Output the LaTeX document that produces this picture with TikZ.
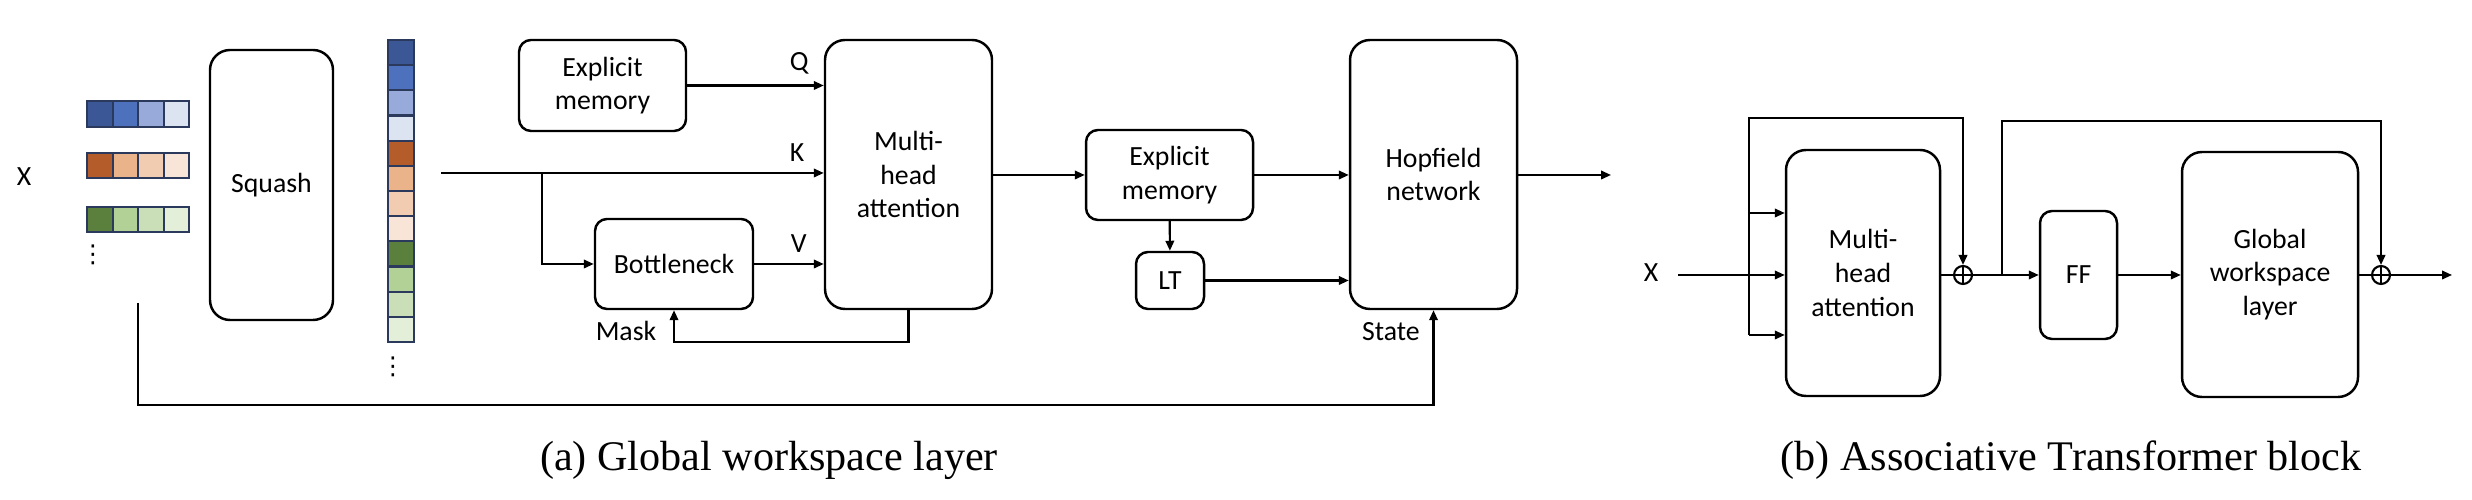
\documentclass[tikz,border=0pt]{standalone}
\usepackage{fontspec}
\setmainfont{Carlito}
\newfontfamily\capfont{Liberation Serif}
\newfontfamily\symfont{DejaVu Sans}
\usetikzlibrary{positioning,arrows.meta,calc}
\usepackage{xcolor}

\definecolor{blueA}{HTML}{3B5796}
\definecolor{blueB}{HTML}{4E71BE}
\definecolor{blueC}{HTML}{97AAD9}
\definecolor{blueD}{HTML}{DCE3F1}
\definecolor{oranA}{HTML}{B55D2A}
\definecolor{oranB}{HTML}{EAB389}
\definecolor{oranC}{HTML}{F2CCB0}
\definecolor{oranD}{HTML}{F8E5D8}
\definecolor{grnA}{HTML}{5B7F3C}
\definecolor{grnB}{HTML}{B2D196}
\definecolor{grnC}{HTML}{CADFB7}
\definecolor{grnD}{HTML}{E3EFD9}
\definecolor{cellline}{HTML}{2B3A5C}
\newcommand{\diagfont}{\fontsize{7.9}{9.6}\selectfont}

\begin{document}
\begin{tikzpicture}[
    block/.style={draw,line width=0.7pt,rounded corners=0.2cm,align=center,font=\diagfont,inner sep=0pt},
    small/.style={block,rounded corners=0.12cm},
    cell/.style={draw=cellline,line width=0.6pt,minimum size=0.255cm,inner sep=0pt},
    lbl/.style={font=\diagfont,inner sep=1pt},
    dots/.style={font=\symfont\fontsize{7}{7}\selectfont,inner sep=0pt},
    arrow/.style={->,>={Triangle[length=1mm,width=0.85mm]},line width=0.6pt},
    wire/.style={line width=0.6pt},
    oplus/.style={draw,circle,line width=0.6pt,minimum size=0.18cm,inner sep=0pt,
        path picture={\draw[line width=0.5pt] (path picture bounding box.north) -- (path picture bounding box.south)
            (path picture bounding box.west) -- (path picture bounding box.east);}},
    caption/.style={font=\capfont\fontsize{12}{14}\selectfont},
]
\useasboundingbox (0,0) rectangle (24.72,5);

% (a) input tokens
\node[lbl] (xa) at (0.24,3.23) {X};
\foreach \c [count=\i] in {blueA,blueB,blueC,blueD}
    \node[cell,fill=\c] (ra\i) at ({0.745+0.255*\i},3.86) {};
\foreach \c [count=\i] in {oranA,oranB,oranC,oranD}
    \node[cell,fill=\c] (rb\i) at ({0.745+0.255*\i},3.345) {};
\foreach \c [count=\i] in {grnA,grnB,grnC,grnD}
    \node[cell,fill=\c] (rc\i) at ({0.745+0.255*\i},2.805) {};
\node[dots] (rdots) at (0.93,2.45) {⋮};

\node[block,minimum width=1.23cm,minimum height=2.70cm] (squash) at (2.715,3.15) {Squash};

% squashed column
\foreach \c [count=\i] in {blueA,blueB,blueC,blueD,oranA,oranB,oranC,oranD,grnA,grnB,grnC,grnD}
    \node[cell,minimum height=0.252cm,fill=\c] (col\i) at (4.01,{4.726-0.2517*\i}) {};
\node[dots] (cdots) at (3.93,1.33) {⋮};

% (a) blocks
\node[small,minimum width=1.67cm,minimum height=0.91cm] (mem1) at (6.025,4.145) {Explicit\\memory};
\node[block,minimum width=1.67cm,minimum height=2.69cm] (mha) at (9.085,3.255) {Multi-\\head\\attention};
\node[small,minimum width=1.58cm,minimum height=0.90cm] (bneck) at (6.74,2.36) {Bottleneck};
\node[small,minimum width=1.67cm,minimum height=0.90cm] (mem2) at (11.695,3.25) {Explicit\\memory};
\node[small,minimum width=0.68cm,minimum height=0.57cm] (lt) at (11.70,2.195) {LT};
\node[block,minimum width=1.67cm,minimum height=2.69cm] (hop) at (14.335,3.255) {Hopfield\\network};

\coordinate (kin) at (4.41,3.27);
\coordinate (kbr) at (5.42,3.27);
\coordinate (hout) at (16.11,3.25);
\coordinate (xst) at (1.38,1.97);

\draw[arrow] (mem1.east) -- (mem1 -| mha.west) node[lbl,pos=0.82,above=2pt] (qlbl) {Q};
\draw[arrow] (kin) -- (kin -| mha.west) node[lbl,pos=0.93,above=2pt] (klbl) {K};
\draw[arrow] (kbr) |- (bneck.west);
\draw[arrow] (bneck.east) -- (bneck -| mha.west) node[lbl,pos=0.64,above=2pt] (vlbl) {V};
\draw[arrow] (mha.south) -- ++(0,-0.32) -| (bneck.south);
\node[lbl] (masklbl) at (6.26,1.69) {Mask};
\draw[arrow] (mem2 -| mha.east) -- (mem2.west);
\draw[arrow] (mem2) -- (lt);
\draw[arrow] (lt.east) -- (lt -| hop.west);
\draw[arrow] (mem2.east) -- (mem2 -| hop.west);
\draw[arrow] (mem2 -| hop.east) -- (hout);
\draw[arrow] (xst) -- ++(0,-1.02) -| (hop.south);
\node[lbl] (statelbl) at (13.91,1.68) {State};

% (b) transformer block
\node[lbl] (xb) at (16.51,2.27) {X};
\node[block,minimum width=1.54cm,minimum height=2.46cm] (mhab) at (18.63,2.27) {Multi-\\head\\attention};
\node[oplus] (add1) at (19.63,2.25) {};
\node[small,minimum width=0.77cm,minimum height=1.28cm] (ff) at (20.785,2.25) {FF};
\node[block,minimum width=1.76cm,minimum height=2.45cm] (gws) at (22.70,2.255) {Global\\workspace\\layer};
\node[oplus] (add2) at (23.81,2.25) {};

\coordinate (xbin) at (16.78,2.25);
\coordinate (xbr) at (17.49,2.25);
\coordinate (xhigh) at (17.49,2.87);
\coordinate (xlow) at (17.49,1.65);
\coordinate (fbr) at (20.02,2.25);
\coordinate (bout) at (24.52,2.25);

\draw[arrow] (xbin) -- (xbr) -- (xbr -| mhab.west);
\draw[arrow] (xhigh) -- (xhigh -| mhab.west);
\draw[arrow] (xlow) -- (xlow -| mhab.west);
\draw[arrow] (xlow) -- ++(0,2.17) -| (add1.north);
\draw[wire] (add1 -| mhab.east) -- (add1.west);
\draw[arrow] (add1.east) -- (ff.west);
\draw[arrow] (fbr) -- ++(0,1.54) -| (add2.north);
\draw[arrow] (ff.east) -- (ff -| gws.west);
\draw[wire] (add2 -| gws.east) -- (add2.west);
\draw[arrow] (add2.east) -- (bout);

\node[caption] (capa) at (7.69,0.40) {(a) Global workspace layer};
\node[caption] (capb) at (20.71,0.40) {(b) Associative Transformer block};
\end{tikzpicture}
\end{document}
